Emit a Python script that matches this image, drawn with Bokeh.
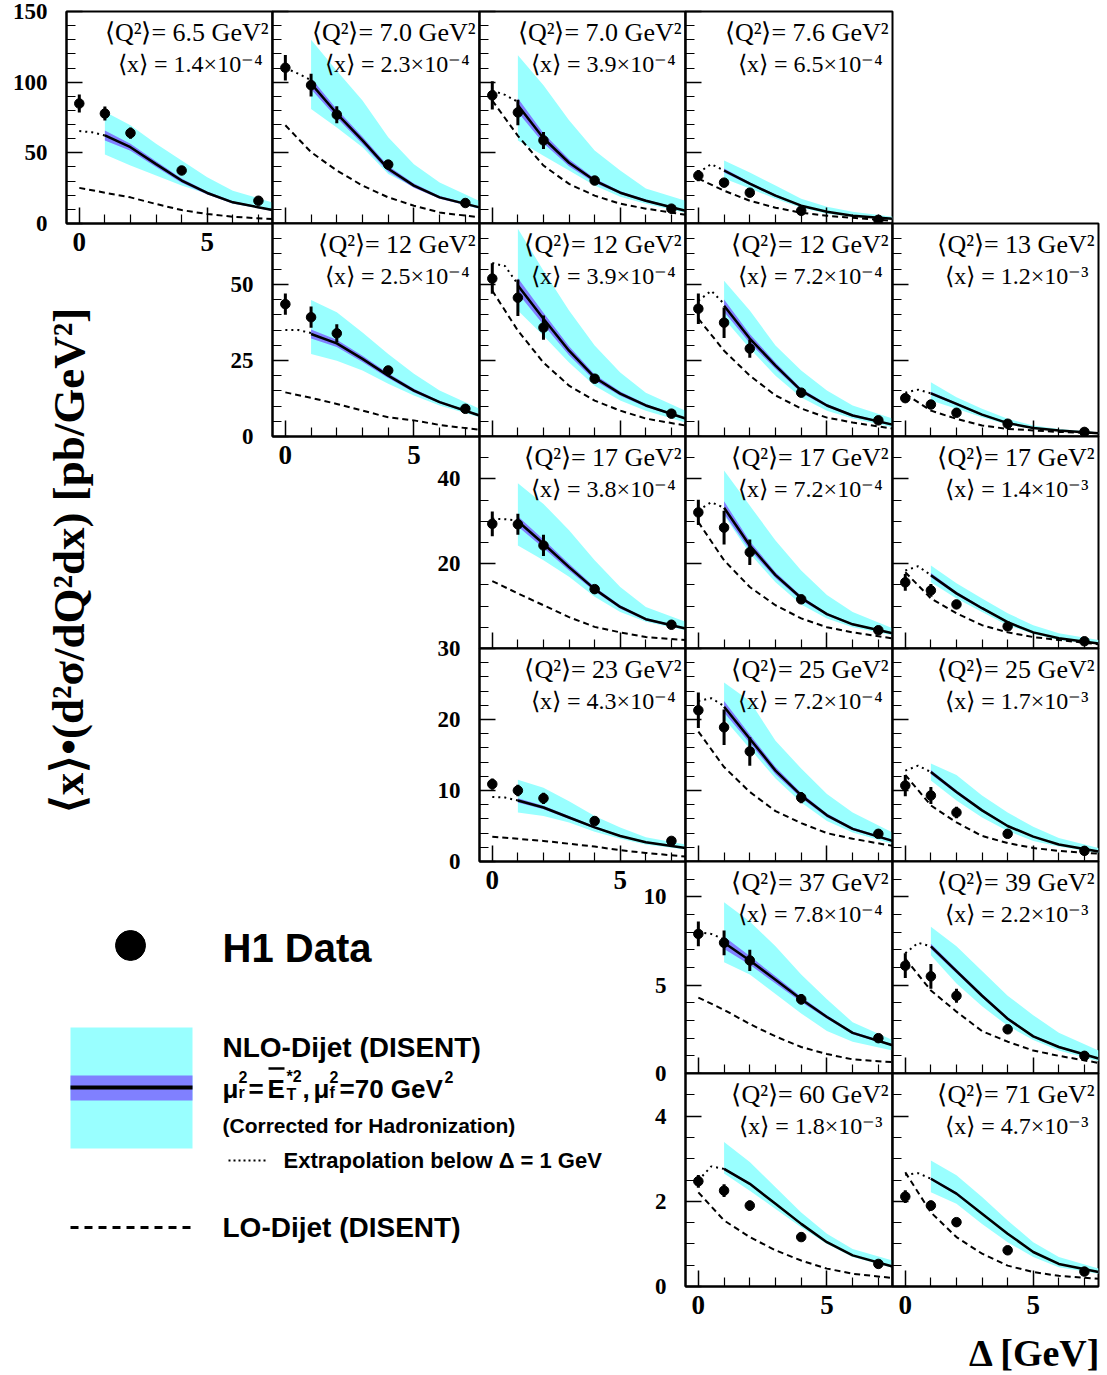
from bokeh.plotting import figure
from bokeh.models import Range1d, FixedTicker, Label, Column
from bokeh.embed import file_html
from bokeh.resources import INLINE

# ---------------- data ----------------
Q2_TEXT = ["6.5", "7.0", "7.0", "7.6", "12", "12", "12", "13", "17", "17", "17",
           "23", "25", "25", "37", "39", "60", "71"]
X_TEXT = ["1.4×10⁻⁴", "2.3×10⁻⁴", "3.9×10⁻⁴", "6.5×10⁻⁴", "2.5×10⁻⁴", "3.9×10⁻⁴",
          "7.2×10⁻⁴", "1.2×10⁻³", "3.8×10⁻⁴", "7.2×10⁻⁴", "1.4×10⁻³", "4.3×10⁻⁴",
          "7.2×10⁻⁴", "1.7×10⁻³", "7.8×10⁻⁴", "2.2×10⁻³", "1.8×10⁻³", "4.7×10⁻³"]
PANEL_ROW = [0, 0, 0, 0, 1, 1, 1, 1, 2, 2, 2, 3, 3, 3, 4, 4, 5, 5]
PANEL_COL = [0, 1, 2, 3, 1, 2, 3, 4, 2, 3, 4, 2, 3, 4, 3, 4, 3, 4]

X_PTS = [0, 1, 2, 4, 7]            # data points (Delta, GeV)
X_NLO = [1, 2, 3, 4, 5, 6, 7.55]   # NLO curve / band
X_LO = [0, 1, 2, 3, 4, 5, 6, 7.55] # LO curve
X_EXT = [0, 0.5, 1]                # extrapolation below 1 GeV

DATA_Y = [
    [84.9, 77.8, 64.0, 37.5, 16.1], [110.2, 97.9, 77.0, 41.7, 14.5],
    [90.7, 78.6, 58.8, 30.4, 10.5], [33.9, 28.9, 21.8, 9.0, 2.6],
    [43.5, 39.2, 33.9, 21.7, 9.1], [51.9, 45.6, 35.8, 19.0, 7.5],
    [42.0, 37.4, 28.9, 14.4, 5.3], [12.6, 10.5, 7.8, 4.2, 1.5],
    [29.4, 29.3, 24.3, 14.0, 5.6], [32.1, 28.5, 22.7, 11.6, 4.3],
    [15.6, 13.7, 10.4, 5.2, 1.7], [10.9, 10.0, 8.9, 5.7, 2.9],
    [21.3, 18.9, 15.5, 9.0, 3.9], [10.7, 9.3, 6.9, 3.9, 1.5],
    [7.9, 7.4, 6.4, 4.2, 2.0], [6.1, 5.5, 4.4, 2.5, 1.0],
    [2.47, 2.25, 1.9, 1.16, 0.53], [2.11, 1.9, 1.51, 0.85, 0.35]]
DATA_ERR = [
    [6.4, 5, 4, 2, 1.5], [9, 8, 6, 2.5, 1.5], [10, 9, 6, 2, 1.2], [4, 2.5, 2, 1, 0.8],
    [3.5, 3.5, 3, 1.5, 0.8], [5, 6, 4, 1.5, 0.8], [5, 5, 3, 1, 0.6], [1.2, 1, 0.8, 0.5, 0.3],
    [2.9, 2.5, 2.5, 1, 0.6], [3, 4, 3, 1, 0.5], [2, 1.5, 1, 0.5, 0.3], [0.8, 0.8, 0.8, 0.4, 0.3],
    [2.5, 2.5, 2, 0.8, 0.4], [1.5, 1.2, 0.8, 0.4, 0.2], [0.7, 0.7, 0.6, 0.3, 0.15],
    [0.7, 0.7, 0.4, 0.2, 0.1], [0.15, 0.15, 0.12, 0.06, 0.04], [0.15, 0.12, 0.1, 0.05, 0.03]]
NLO = [
    [62.3, 54, 42, 30.4, 21.6, 15, 9.5], [99, 77.8, 58.8, 38.7, 26.8, 18.5, 11.4],
    [83.7, 60.3, 43, 30.4, 21.8, 16.1, 9], [37.5, 28.2, 19.7, 12.6, 8.3, 5.5, 3.3],
    [33.7, 30.6, 25.5, 20, 15.1, 11.3, 6.9], [49.6, 38.7, 28.2, 19.4, 14.1, 10.2, 5.9],
    [43, 32.2, 23.3, 15.1, 10.2, 6.9, 3.9], [14.2, 10.7, 7.2, 4.4, 2.8, 2, 1.1],
    [30, 24.7, 19.2, 14, 9.8, 6.9, 4.7], [33.2, 24.3, 17.3, 11.9, 8.1, 5.7, 3.6],
    [17.3, 13, 9.5, 6.2, 3.8, 2.4, 1.2], [8.6, 7.6, 6.2, 4.8, 3.6, 2.7, 1.9],
    [21.8, 17.3, 12.8, 9.3, 6.5, 4.6, 2.9], [12.6, 9.8, 7.2, 5, 3.5, 2.4, 1.4],
    [7.4, 6.4, 5.3, 4.2, 3.2, 2.3, 1.6], [7.2, 5.8, 4.4, 3.1, 2.1, 1.5, 0.85],
    [2.76, 2.41, 1.94, 1.47, 1.04, 0.73, 0.47], [2.53, 2.18, 1.71, 1.24, 0.81, 0.53, 0.34]]
NLO_UP = [
    [79, 69.5, 56.4, 44.6, 32.7, 23.2, 14.9], [130, 108, 87, 61, 42, 29, 16],
    [119, 97.9, 73, 51.7, 37.5, 24.7, 16.1], [44.6, 36, 26.8, 17.6, 11.9, 8.3, 4.8],
    [44.9, 40.8, 34.2, 27.1, 20.6, 15.1, 9.1], [68.3, 54.5, 41.4, 29.9, 21, 14.4, 8.5],
    [51.2, 41.4, 29.9, 21.7, 15.1, 10.2, 5.9], [17.8, 12.9, 9.1, 5.8, 3.6, 2.5, 1.4],
    [39, 34.1, 27.9, 20.8, 14.5, 9.8, 6.3], [42, 33.7, 25.5, 18.4, 12.6, 8.6, 4.8],
    [19.6, 15.4, 11.8, 8.3, 5.5, 3.6, 2], [11.5, 10.4, 8.5, 6.4, 4.8, 3.4, 2.4],
    [25.2, 22.6, 17, 13.1, 9.5, 6.9, 4.1], [13.8, 12.2, 9.3, 6.9, 4.9, 3.3, 1.9],
    [9.7, 8.6, 7.2, 5.6, 4.2, 2.9, 1.9], [8.3, 7.2, 5.8, 4.4, 3.3, 2.3, 1.3],
    [3.39, 2.92, 2.33, 1.74, 1.24, 0.88, 0.61], [2.96, 2.61, 2.1, 1.55, 1.04, 0.69, 0.42]]
NLO_DN = [
    [48.8, 41, 34, 26.8, 20.9, 14, 9], [81, 68, 54, 35, 25.6, 18, 10.2],
    [58.8, 48, 37.5, 26.8, 19, 14, 7.6], [31.8, 24.7, 17.6, 11.2, 6.9, 4.8, 2.6],
    [27.1, 24.9, 21.7, 17.3, 13.5, 10.2, 6.3], [41.4, 33.1, 24.3, 16.7, 11.8, 8.5, 4.6],
    [38.7, 28.9, 20, 12.8, 8.5, 5.9, 3], [11.8, 9.1, 6.3, 3.9, 2.5, 1.8, 1],
    [24.3, 20.8, 16.9, 12.2, 8.6, 6.3, 4.3], [31.4, 22.4, 15.6, 10.4, 7.1, 5, 3.1],
    [15.6, 11.8, 8.6, 5.5, 3.4, 2, 1], [6.9, 6.4, 5.5, 4.2, 3.2, 2.4, 1.7],
    [20.1, 15.9, 11.7, 8.3, 5.7, 4.1, 2.5], [11.4, 8.6, 6.2, 4.3, 2.9, 2.1, 1.2],
    [6.3, 5.6, 4.5, 3.4, 2.4, 1.8, 1.3], [6.7, 5.1, 3.8, 2.7, 1.9, 1.3, 0.7],
    [2.65, 2.25, 1.82, 1.39, 1.0, 0.69, 0.44], [2.21, 1.94, 1.47, 1.04, 0.69, 0.45, 0.3]]
NLO_STAT = [
    [3.5, 2.5, 2, 1.5, 1, 0.8, 0.6], [4, 3, 2.5, 2, 1.5, 1, 0.7],
    [5, 3.5, 2.5, 1.5, 1, 0.8, 0.5], [1.5, 1, 0.8, 0.5, 0.4, 0.3, 0.2],
    [1.5, 1.2, 1, 0.8, 0.6, 0.4, 0.3], [2.5, 2, 1.5, 1, 0.7, 0.5, 0.3],
    [2, 1.5, 1, 0.7, 0.5, 0.4, 0.3], [0.5, 0.4, 0.3, 0.2, 0.15, 0.1, 0.1],
    [1.2, 1, 0.8, 0.5, 0.4, 0.3, 0.2], [1.5, 1, 0.7, 0.5, 0.3, 0.2, 0.15],
    [0.5, 0.4, 0.3, 0.2, 0.15, 0.1, 0.1], [0.3, 0.25, 0.2, 0.15, 0.1, 0.1, 0.08],
    [0.8, 0.6, 0.5, 0.35, 0.25, 0.2, 0.15], [0.3, 0.25, 0.2, 0.15, 0.1, 0.08, 0.05],
    [0.35, 0.25, 0.2, 0.15, 0.1, 0.08, 0.06], [0.15, 0.12, 0.1, 0.08, 0.06, 0.05, 0.04],
    [0.03, 0.03, 0.02, 0.02, 0.015, 0.01, 0.01], [0.03, 0.03, 0.02, 0.02, 0.01, 0.01, 0.01]]
EXTRAP = [
    [65.4, 64.5, 62.3], [110, 106, 101.4], [94, 91, 86], [36, 42, 37.5],
    [35, 35, 34], [57, 56, 50], [44.6, 47.9, 43.6], [14.4, 15.4, 14.2],
    [30.6, 30.5, 30.2], [32.6, 34.5, 33.2], [18.4, 19.4, 17.3], [9.1, 9.0, 8.6],
    [22.6, 23, 21.9], [12.8, 13.5, 12.6], [8, 7.9, 7.6], [6.8, 7.4, 7.2],
    [2.49, 2.82, 2.76], [2.62, 2.66, 2.53]]
LO = [
    [25.2, 21.8, 18.5, 13.8, 9.5, 6.7, 4.8, 3.1], [69.5, 50.5, 37.5, 26.8, 18.5, 12.6, 7.8, 4.3],
    [87, 62, 41, 28, 19.7, 14, 10.5, 6.2], [31.8, 23.2, 16.1, 11.2, 7.6, 5.5, 4, 1.9],
    [14.5, 12.7, 10.7, 8.5, 6.3, 5.3, 3.8, 2.2], [47.9, 34.8, 24.3, 16.7, 11.8, 8.5, 5.9, 3.6],
    [38.7, 28.2, 20, 13.5, 9.2, 6.2, 4.6, 2.6], [14, 8.5, 5.8, 3.6, 2.5, 2, 1.5, 1.1],
    [15.9, 13, 10.2, 7.4, 5.1, 3.8, 2.7, 2], [29.8, 20.8, 14.5, 10.2, 7.1, 5, 3.8, 2.4],
    [18, 11.8, 8.3, 5.5, 3.8, 2.7, 2, 1], [3.5, 3.2, 2.9, 2.5, 2.1, 1.6, 1.2, 0.7],
    [18.3, 13.3, 9.8, 7.1, 5.4, 4, 3.2, 2.2], [12.2, 7.9, 5.5, 3.6, 2.6, 1.9, 1.5, 1.1],
    [4.3, 3.6, 2.8, 2.1, 1.5, 1.1, 0.8, 0.64], [6.5, 4.7, 3.5, 2.4, 1.8, 1.3, 1, 0.6],
    [2.21, 1.55, 1.16, 0.85, 0.61, 0.42, 0.3, 0.2], [2.68, 1.74, 1.16, 0.77, 0.49, 0.34, 0.25, 0.18]]

# axis scales per row
ROW_YMAX = [150, 70, 50, 30, 12, 5]
ROW_MAJOR = [[0, 50, 100, 150], [0, 25, 50], [20, 40], [0, 10, 20, 30], [0, 5, 10], [0, 2, 4]]
ROW_MINOR = [10, 5, 5, 2, 1, 0.5]
X_MAJOR = [0, 5]
X_MINOR = [1, 2, 3, 4, 6, 7]
XMIN, XMAX = -0.5, 7.55
YLAB_PANELS = [0, 4, 8, 11, 14, 16]
XLAB_PANELS = [0, 4, 11, 16, 17]

# ---------------- layout (page pixels) ----------------
COL_LEFT = [66, 272, 479, 685, 892]
COL_W = [206, 207, 206, 207, 206]
ROW_TOP = [11, 223, 436, 648, 861, 1073]
ROW_H = [212, 213, 212, 213, 212, 213]
ML, MR, MT, MB = 70, 3, 16, 48

CYAN = "#99ffff"
VIOLET = "#8080ff"
SERIF = "Liberation Serif"
SANS = "Liberation Sans"


def make_panel(i):
    r, c = PANEL_ROW[i], PANEL_COL[i]
    ymax = ROW_YMAX[r]
    fw, fh = COL_W[c], ROW_H[r]
    p = figure(frame_width=fw, frame_height=fh,
               x_range=Range1d(XMIN, XMAX), y_range=Range1d(0, ymax),
               output_backend="svg", toolbar_location=None,
               min_border_left=ML, min_border_right=MR,
               min_border_top=MT, min_border_bottom=MB,
               border_fill_color=None, background_fill_color="white",
               outline_line_color="black", outline_line_width=2)
    p.xgrid.visible = False
    p.ygrid.visible = False

    step = ROW_MINOR[r]
    n = int(round(ymax / step))
    minors = [k * step for k in range(1, n + 1)
              if all(abs(k * step - m) > 1e-9 for m in ROW_MAJOR[r])]

    xa, ya = p.xaxis[0], p.yaxis[0]
    xa.ticker = FixedTicker(ticks=X_MAJOR, minor_ticks=X_MINOR)
    ya.ticker = FixedTicker(ticks=ROW_MAJOR[r], minor_ticks=minors)
    for ax in (xa, ya):
        ax.major_tick_in = 16
        ax.major_tick_out = 0
        ax.minor_tick_in = 9
        ax.minor_tick_out = 0
        ax.axis_line_color = "black"
        ax.axis_line_width = 2
        ax.major_tick_line_color = "black"
        ax.minor_tick_line_color = "black"
        ax.major_tick_line_width = 1.5
        ax.minor_tick_line_width = 1.2
        ax.major_label_text_font = SERIF
        ax.major_label_text_font_style = "bold"
        ax.major_label_text_color = "black"
    xa.major_label_text_font_size = "27px"
    ya.major_label_text_font_size = "23px"
    xa.major_label_standoff = 9
    ya.major_label_standoff = 19
    if i not in XLAB_PANELS:
        xa.major_label_text_color = None
    if i not in YLAB_PANELS:
        ya.major_label_text_color = None

    # NLO band (cyan), statistical band (violet), central curve
    p.varea(x=X_NLO, y1=NLO_DN[i], y2=NLO_UP[i], fill_color=CYAN)
    s_lo = [v - e for v, e in zip(NLO[i], NLO_STAT[i])]
    s_hi = [v + e for v, e in zip(NLO[i], NLO_STAT[i])]
    p.varea(x=X_NLO, y1=s_lo, y2=s_hi, fill_color=VIOLET)
    p.line(X_NLO, NLO[i], line_color="black", line_width=2.5)
    p.line(X_LO, LO[i], line_color="black", line_width=2, line_dash="6 4")
    p.line(X_EXT, EXTRAP[i], line_color="black", line_width=2, line_dash="2 4")

    # data
    lo = [v - e for v, e in zip(DATA_Y[i], DATA_ERR[i])]
    hi = [v + e for v, e in zip(DATA_Y[i], DATA_ERR[i])]
    p.segment(x0=X_PTS, y0=lo, x1=X_PTS, y1=hi, line_color="black", line_width=3)
    p.scatter(X_PTS, DATA_Y[i], size=9.5, color="black")

    # panel labels
    px = (XMAX - XMIN) / fw
    py = ymax / fh
    p.add_layout(Label(x=XMAX - 4 * px, y=ymax - 21 * py,
                       text="⟨Q²⟩= " + Q2_TEXT[i] + " GeV²",
                       text_align="right", text_baseline="alphabetic",
                       text_font=SERIF, text_font_size="26px", text_color="black"))
    p.add_layout(Label(x=XMAX - 15 * px, y=ymax - 52 * py,
                       text="⟨x⟩ = " + X_TEXT[i],
                       text_align="right", text_baseline="alphabetic",
                       text_font=SERIF, text_font_size="24px", text_color="black"))

    p.styles = {"position": "absolute",
                "left": f"{COL_LEFT[c] - ML}px",
                "top": f"{ROW_TOP[r] - MT}px"}
    return p


def overlay(x0, x1, y0, y1):
    """Blank axis-free figure whose frame covers page pixels x0..x1, y0..y1."""
    f = figure(frame_width=x1 - x0, frame_height=y1 - y0,
               x_range=Range1d(x0, x1), y_range=Range1d(y1, y0),
               x_axis_type=None, y_axis_type=None,
               min_border_left=ML, min_border_right=MR, min_border_top=0, min_border_bottom=0,
               outline_line_color=None, toolbar_location=None, output_backend="svg",
               border_fill_color=None, background_fill_color=None)
    f.styles = {"position": "absolute", "left": f"{x0 - ML}px", "top": f"{y0}px"}
    return f


def lab(f, x, y, text, size, font=SANS, style="bold", align="left", baseline="middle", angle=0):
    f.add_layout(Label(x=x, y=y, text=text, text_font=font, text_font_size=f"{size}px",
                       text_font_style=style, text_align=align, text_baseline=baseline,
                       angle=angle, text_color="black"))


# y-axis title
ytitle = overlay(0, 120, 280, 840)
lab(ytitle, 68, 560, "⟨x⟩•(d²σ/dQ²dx) [pb/GeV²]", 45, font=SERIF, align="center",
    angle=1.5707963)

# x-axis title
xtitle = overlay(900, 1106, 1316, 1373)
lab(xtitle, 1101, 1352, "Δ [GeV]", 38, font=SERIF, align="right", baseline="alphabetic")

# legend
leg = overlay(40, 640, 900, 1260)
leg.scatter([130], [945], size=30, color="black")
lab(leg, 222, 947, "H1 Data", 40)
leg.quad(left=[70], right=[192], top=[1027], bottom=[1148], fill_color=CYAN, line_color=None)
leg.quad(left=[70], right=[192], top=[1075], bottom=[1100], fill_color=VIOLET, line_color=None)
leg.line([70, 192], [1087, 1087], line_color="black", line_width=4)
lab(leg, 222, 1047, "NLO-Dijet (DISENT)", 28)
# mu_r^2 = Ebar_T^*2 , mu_f^2 = 70 GeV^2
BASE = 1088
lab(leg, 222, BASE, "μ", 26, baseline="alphabetic")
lab(leg, 238, BASE - 12, "2", 16, baseline="alphabetic")
lab(leg, 238, BASE + 4, "r", 16, baseline="alphabetic")
lab(leg, 248, BASE, "=", 26, baseline="alphabetic")
lab(leg, 267, BASE, "E", 26, baseline="alphabetic")
leg.line([268, 284], [1068, 1068], line_color="black", line_width=2.5)
lab(leg, 286, BASE - 12, "*2", 16, baseline="alphabetic")
lab(leg, 286, BASE + 6, "T", 16, baseline="alphabetic")
lab(leg, 302, BASE, ",", 26, baseline="alphabetic")
lab(leg, 313, BASE, "μ", 26, baseline="alphabetic")
lab(leg, 329, BASE - 12, "2", 16, baseline="alphabetic")
lab(leg, 329, BASE + 4, "f", 16, baseline="alphabetic")
lab(leg, 339, BASE, "=70 GeV", 26, baseline="alphabetic")
lab(leg, 444, BASE - 12, "2", 16, baseline="alphabetic")
lab(leg, 222, 1125, "(Corrected for Hadronization)", 21)
leg.line([228, 268], [1160, 1160], line_color="black", line_width=2, line_dash="2 3")
lab(leg, 283, 1160, "Extrapolation below Δ = 1 GeV", 22)
leg.line([70, 192], [1227, 1227], line_color="black", line_width=3, line_dash="8 6")
lab(leg, 222, 1227, "LO-Dijet (DISENT)", 28)

panels = [make_panel(i) for i in range(len(Q2_TEXT))]
root = Column(children=[ytitle, xtitle, leg] + panels,
              styles={"position": "relative", "width": "1091px", "height": "1359px"})

open("out.html", "w").write(file_html(root, INLINE))
